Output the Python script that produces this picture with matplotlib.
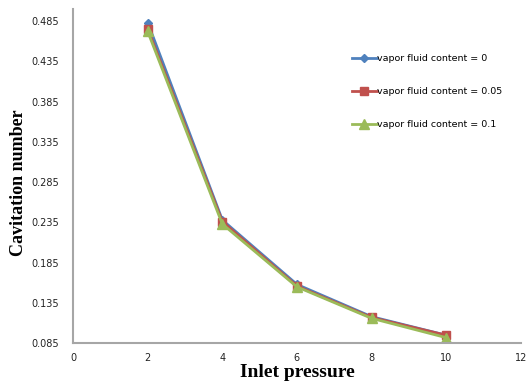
import matplotlib
matplotlib.use("Agg")
import matplotlib.pyplot as plt

pressure = [2, 4, 6, 8, 10]
cav_0 = [0.483, 0.238, 0.158, 0.118, 0.095]
cav_005 = [0.475, 0.236, 0.156, 0.117, 0.095]
cav_01 = [0.472, 0.233, 0.155, 0.116, 0.092]
labels = ["vapor fluid content = 0", "vapor fluid content = 0.05", "vapor fluid content = 0.1"]
yticks = [0.085, 0.135, 0.185, 0.235, 0.285, 0.335, 0.385, 0.435, 0.485]
xticks = [0, 2, 4, 6, 8, 10, 12]

fig = plt.figure(figsize=(5.26, 3.87), dpi=100)
ax = fig.add_axes([0.139, 0.113, 0.851, 0.864])

ax.plot(pressure, cav_0, color="#4F81BD", marker="D", markersize=4.5, lw=2.0, label=labels[0])
ax.plot(pressure, cav_005, color="#C0504D", marker="s", markersize=6, lw=2.0, label=labels[1])
ax.plot(pressure, cav_01, color="#9BBB59", marker="^", markersize=7, lw=2.0, label=labels[2])

ax.set_xlim(0, 12)
ax.set_ylim(0.085, 0.5)
ax.set_xticks(xticks)
ax.set_yticks(yticks)
ax.set_xticklabels([str(x) for x in xticks])
ax.set_yticklabels([f"{y:.3f}" for y in yticks])
ax.tick_params(length=0, labelsize=7, colors="#222222")
ax.tick_params(axis="y", pad=10)
ax.tick_params(axis="x", pad=7)
for s in ["top", "right"]:
    ax.spines[s].set_visible(False)
for s in ["left", "bottom"]:
    ax.spines[s].set_color("#A6A6A6")
    ax.spines[s].set_linewidth(1.5)

ax.set_xlabel("Inlet pressure", fontsize=14, fontweight="bold", family="Liberation Serif", labelpad=1)
ax.set_ylabel("Cavitation number", fontsize=13, fontweight="bold", family="Liberation Serif")
ax.yaxis.set_label_coords(-0.102, 0.479)

leg = ax.legend(loc="upper left", bbox_to_anchor=(0.604, 0.89), frameon=False, fontsize=6.8,
                labelspacing=2.55, handlelength=2.6, handletextpad=0.1)

fig.savefig("out.png", dpi=100)
